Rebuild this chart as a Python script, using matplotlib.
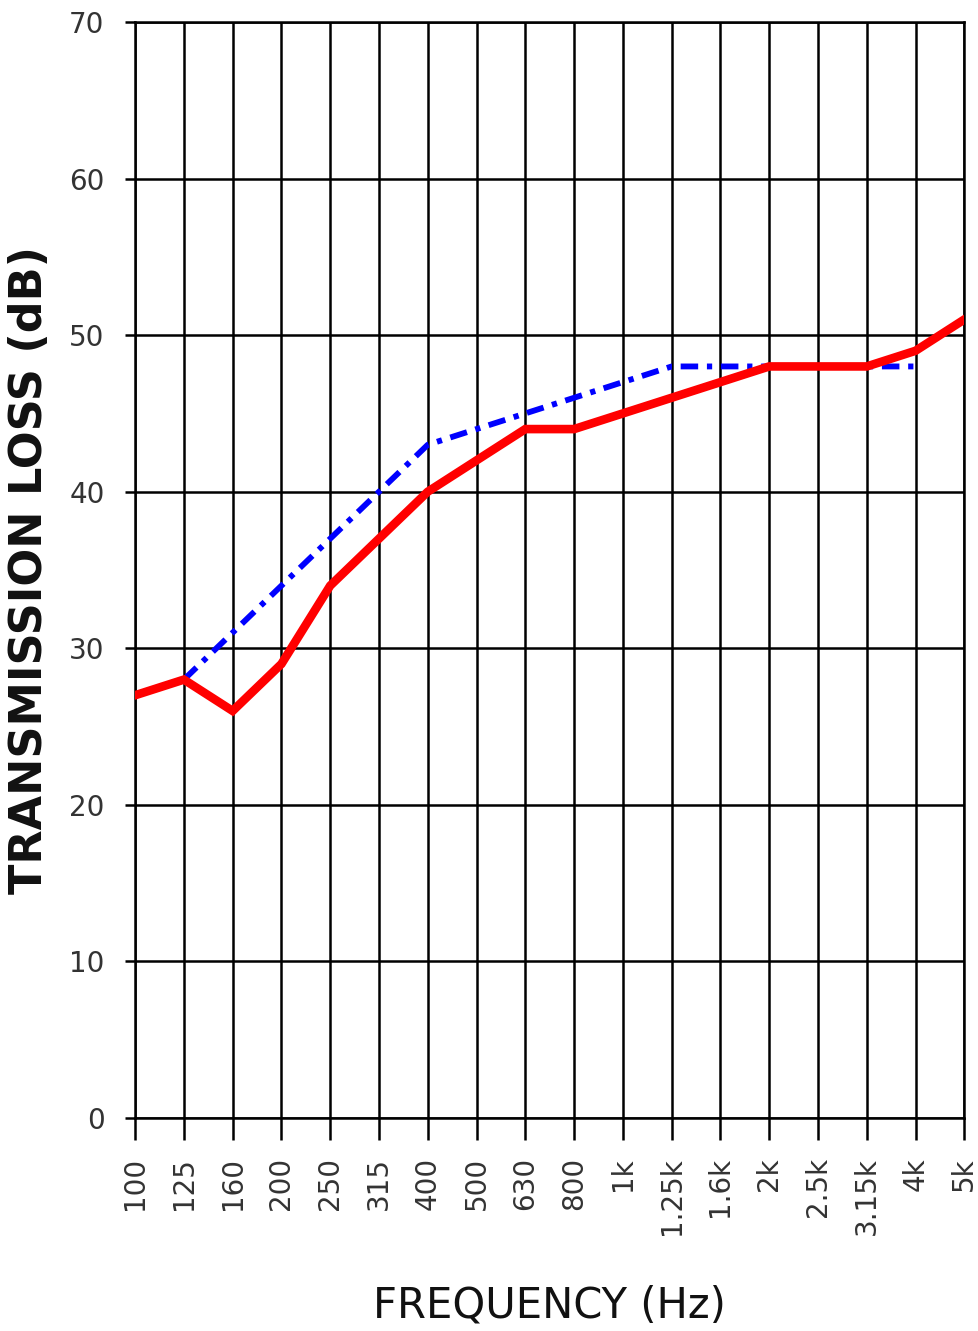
import matplotlib
matplotlib.use("Agg")
import matplotlib.pyplot as plt

freqs = ["100", "125", "160", "200", "250", "315", "400", "500", "630", "800",
         "1k", "1.25k", "1.6k", "2k", "2.5k", "3.15k", "4k", "5k"]
red_tl = [27, 28, 26, 29, 34, 37, 40, 42, 44, 44, 45, 46, 47, 48, 48, 48, 49, 51]
blue_freqs = ["125", "160", "200", "250", "315", "400", "500", "630", "800",
              "1k", "1.25k", "1.6k", "2k", "2.5k", "3.15k", "4k"]
blue_tl = [28, 31, 34, 37, 40, 43, 44, 45, 46, 47, 48, 48, 48, 48, 48, 48]
yticks = [0, 10, 20, 30, 40, 50, 60, 70]

fig = plt.figure(figsize=(9.79, 13.31), dpi=100)
ax = fig.add_axes([0.138, 0.16, 0.847, 0.8235])

xpos = list(range(len(freqs)))
bx = [freqs.index(f) for f in blue_freqs]

ax.plot(bx, blue_tl, color="#0000ff", lw=4.2, linestyle=(0, (3, 1.5, 0.9, 1.5)),
        zorder=3)
ax.plot(xpos, red_tl, color="#ff0000", lw=6.2, solid_joinstyle="miter", zorder=4)

ax.set_xlim(0, len(freqs) - 1)
ax.set_ylim(0, 70)
ax.set_xticks(xpos)
ax.set_xticklabels(freqs, rotation=90, fontsize=20, color="#333333")
ax.set_yticks(yticks)
ax.set_yticklabels([str(v) for v in yticks], fontsize=20, color="#333333")
ax.grid(True, color="black", lw=1.8)
ax.set_axisbelow(True)
for s in ax.spines.values():
    s.set_linewidth(1.8)
    s.set_color("black")
ax.tick_params(axis="x", length=16, width=1.8, pad=12)
ax.tick_params(axis="y", length=7, width=1.8, pad=15)

ax.set_xlabel("FREQUENCY (Hz)", fontsize=30, color="#111111")
ax.xaxis.label.set_va("center")
ax.xaxis.set_label_coords(0.5, -0.171)
ax.set_ylabel("TRANSMISSION LOSS (dB)", fontsize=32, fontweight="bold",
              color="#111111")
ax.yaxis.label.set_va("center")
ax.yaxis.set_label_coords(-0.127, 0.5)

fig.savefig("out.png", dpi=100, facecolor="white")
